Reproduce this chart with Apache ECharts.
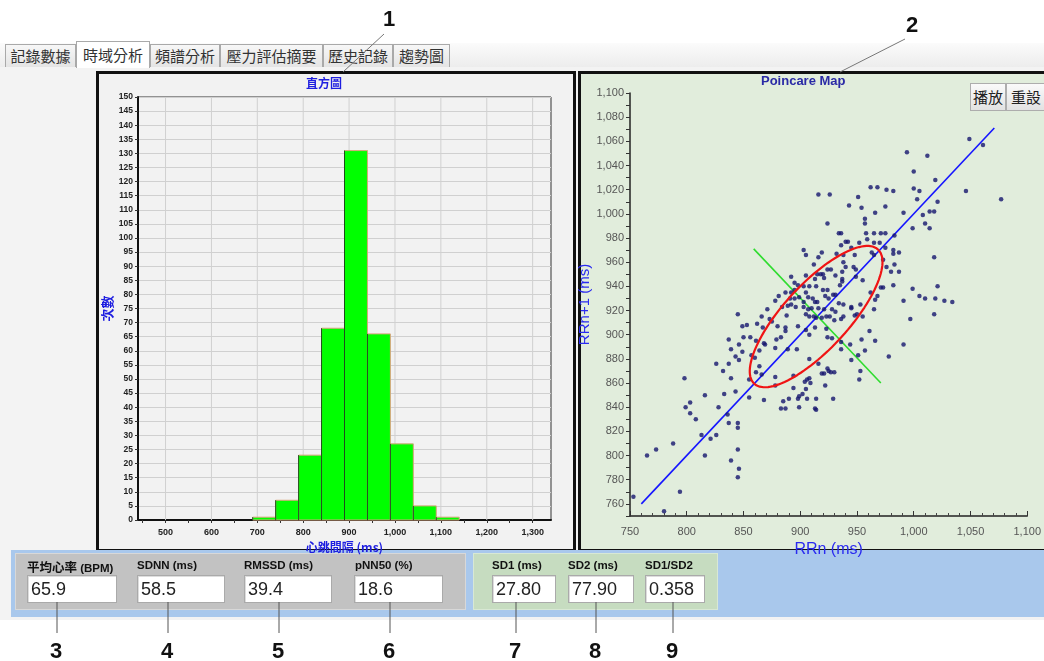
<!DOCTYPE html>
<html>
<head>
<meta charset="utf-8">
<script src="https://cdn.jsdelivr.net/npm/echarts@6/dist/echarts.min.js"></script>
<style>
html,body{margin:0;padding:0;width:1044px;height:661px;overflow:hidden;background:#fff;font-family:"Noto Sans CJK TC","Noto Sans",sans-serif;}
.abs{position:absolute;box-sizing:border-box;}
.tab{position:absolute;box-sizing:border-box;top:44px;height:23px;border:1px solid #a9a9a9;border-bottom:none;background:linear-gradient(#f7f7f7,#e4e4e4);font-size:15px;line-height:21px;color:#333;text-align:center;z-index:2;}
.tab.sel{top:41px;height:27px;background:#fff;line-height:25px;z-index:3;}
.lbl{position:absolute;font-family:"Liberation Sans Narrow","Liberation Sans",sans-serif;font-weight:bold;font-size:11.5px;color:#111;z-index:2;white-space:nowrap;}
.box{position:absolute;box-sizing:border-box;top:575px;height:28px;background:#fff;border:1px solid #aaa;box-shadow:inset 1px 1px 0 #ddd;font-family:"Liberation Sans Narrow","Liberation Sans",sans-serif;font-size:18px;line-height:26px;padding-left:3px;color:#222;z-index:2;}
.num{position:absolute;font-family:"Liberation Sans","DejaVu Sans",sans-serif;font-weight:bold;font-size:22px;color:#111;z-index:2;}
.btn{position:absolute;box-sizing:border-box;top:83px;height:28px;border:1px solid #adadad;background:linear-gradient(#fafafa,#e2e2e2);font-size:15px;line-height:26px;text-align:center;color:#222;z-index:4;}
#chart{position:absolute;left:0;top:0;width:1044px;height:661px;z-index:1;}
svg.lead{position:absolute;left:0;top:0;z-index:5;pointer-events:none;}
</style>
</head>
<body>
<div class="abs" style="left:0;top:43px;width:1044px;height:25px;background:linear-gradient(#fbfbfb,#ececec);"></div>
<div class="abs" style="left:0;top:67px;width:1044px;height:553px;background:#f3f3f3;"></div>
<div id="tabs"></div>
<div class="abs" style="left:96px;top:71px;width:480px;height:481px;border:3px solid #111;background:#f2f2f2;"></div>
<div class="abs" style="left:578px;top:71px;width:470px;height:481px;border:3px solid #111;background:#e1eddc;"></div>
<div class="abs" style="left:11px;top:550px;width:1040px;height:67px;background:#a9c8ec;"></div>
<div class="abs" style="left:15px;top:553px;width:451px;height:57px;background:#c2c2c2;border:1px solid #d8d8d8;"></div>
<div class="abs" style="left:473px;top:553px;width:245px;height:57px;background:#c6dcc0;border:1px solid #d8e8d4;"></div>
<div id="stats"></div>
<div class="btn" style="left:970px;width:36px;">播放</div>
<div class="btn" style="left:1006px;width:40px;">重設</div>
<div id="chart"></div>
<svg class="lead" width="1044" height="661" id="leads"></svg>
<div id="nums"></div>
<script>
// ---------------- data ----------------
const tabNames = ['記錄數據','時域分析','頻譜分析','壓力評估摘要','歷史記錄','趨勢圖'];
const histBinStart = [690, 740, 790, 840, 890, 940, 990, 1040, 1090];
const histBinEnd   = [740, 790, 840, 890, 940, 990, 1040, 1090, 1140];
const histCounts   = [1, 7, 23, 68, 131, 66, 27, 5, 1];
const histXLabels  = [500, 600, 700, 800, 900, 1000, 1100, 1200, 1300];
const histXTicks   = [450,500,550,600,650,700,750,800,850,900,950,1000,1050,1100,1150,1200,1250,1300];
const rrN = [
916,926,
1049,1061,994,1012,1000,1019,962,968,976,982,1000,1005,1046,1077,951,1003,1021,943,954,975,
966,991,1008,1014,1018,957,957,999,1010,1014,934,936,958,965,971,975,983,959,940,942,
952,965,970,975,945,936,982,982,987,948,963,965,1018,938,938,940,947,949,973,976,
983,980,987,937,937,937,935,949,955,971,973,982,999,1021,962,968,966,1005,1010,1019,
1027,1034,991,938,945,945,953,934,965,938,936,948,950,955,1018,997,961,954,966,936,
944,936,991,951,957,945,978,
924,903,905,916,919,912,932,915,918,920,924,927,905,913,921,931,892,895,898,903,
908,914,920,924,895,887,892,905,931,881,878,891,895,899,903,907,911,913,915,922,
925,929,892,896,903,907,910,916,921,871,884,889,928,931,866,873,875,888,905,908,
912,914,919,923,926,930,845,849,853,862,867,880,887,887,898,905,908,913,923,924,
928,850,856,837,846,861,868,869,879,883,889,897,878,839,843,846,849,857,860,864,
864,826,837,908,916,924,
930,927,925,921,919,953,952,908,906,904,894,922,894,909,905,929,902,899,898,890,
906,914,885,899,883,887,913,914,
832,839,798,816,833,843,855,868,799,803,803,828,836,808,837,845,845,813,821,826,
788,773,765,816,845,839,846,845,794,753,780,855,861,866,878,878];
const rrN1 = [
1016,1016,
1062,1057,1051,1048,1035,1028,1022,1022,1020,1019,1021,1019,1019,1012,1014,1012,1010,1007,1005,1006,
1001,1001,999,1002,1002,996,992,988,992,988,984,984,984,984,984,984,982,979,977,977,
976,976,976,972,972,974,970,967,968,966,968,966,964,966,960,956,956,954,962,956,
958,952,952,952,946,944,941,948,945,939,939,941,938,940,935,932,929,932,930,930,
928,927,928,925,923,922,925,926,921,915,913,916,917,915,917,913,903,896,895,894,
892,888,892,883,887,879,882,
992,970,966,964,968,958,967,950,950,950,954,954,949,946,947,949,948,943,941,940,
940,940,937,937,937,935,935,935,933,932,928,930,930,931,927,931,930,927,927,932,
930,933,925,923,923,921,922,922,921,921,923,924,921,919,915,913,911,916,917,915,
915,914,914,915,915,912,917,907,908,909,906,907,906,903,907,904,900,906,905,898,
897,898,898,896,892,895,893,892,896,898,888,888,889,888,882,879,886,883,881,887,
874,876,876,880,876,872,
869,869,870,868,868,870,863,864,863,861,866,858,856,860,855,847,851,849,847,847,
847,847,845,840,839,839,839,838,
870,864,864,850,851,853,848,846,840,844,835,840,834,830,827,827,823,817,814,817,
810,805,800,800,805,796,789,782,770,766,754,863,869,867,865,858];
const identityLineX = [760, 1071];
const identityLineY = [760, 1071];
const sd1AxisX = [859, 971];
const sd1AxisY = [971, 860];
const ellipseCenter = [914, 915];
const statLabels = ['平均心率 (BPM)','SDNN (ms)','RMSSD (ms)','pNN50  (%)','SD1 (ms)','SD2 (ms)','SD1/SD2'];
const statValues = ['65.9','58.5','39.4','18.6','27.80','77.90','0.358'];
const sd1 = 27.80, sd2 = 77.90;
const scatterYLabels = [760,780,800,820,840,860,880,900,920,940,960,980,1000,1020,1040,1060,1080,1100];
const scatterYTicks = [750,760,770,780,790,800,810,820,830,840,850,860,870,880,890,900,910,920,930,940,950,960,970,980,990,1000,1010,1020,1030,1040,1050,1060,1070,1080,1090,1100];

// ---------------- HTML chrome ----------------
const tabX = [5, 76, 150, 220, 323, 393];
const tabW = [71, 74, 70, 103, 70, 57];
let th = '';
tabNames.forEach((n,i)=>{ th += `<div class="tab${i===1?' sel':''}" style="left:${tabX[i]}px;width:${tabW[i]}px;">${n}</div>`; });
document.getElementById('tabs').innerHTML = th;

const lblX = [27, 137, 244, 355, 492, 568, 645];
const boxX = [27, 137, 244, 354, 492, 568, 645];
const boxW = [90, 88, 88, 89, 64, 66, 60];
let sh = '';
statLabels.forEach((l,i)=>{
  let txt = l;
  if (i===0) txt = '<span style="font-family:\'Noto Sans CJK TC\';font-size:12.5px;">平均心率</span> (BPM)';
  sh += `<div class="lbl" style="left:${lblX[i]}px;top:${i===0?557:559}px;">${txt}</div>`;
  sh += `<div class="box" style="left:${boxX[i]}px;width:${boxW[i]}px;">${statValues[i]}</div>`;
});
document.getElementById('stats').innerHTML = sh;

const calloutNums = ['1','2','3','4','5','6','7','8','9'];
const calloutX = [390, 913, 57, 168, 279, 390, 516, 596, 673];
const calloutY = [6, 12, 638, 638, 638, 638, 638, 638, 638];
let nh = '';
calloutNums.forEach((n,i)=>{ nh += `<div class="num" style="left:${calloutX[i]-7}px;top:${calloutY[i]}px;">${n}</div>`; });
document.getElementById('nums').innerHTML = nh;
let lh = '<line x1="384" y1="34" x2="343" y2="72" stroke="#777" stroke-width="1"/>';
lh += '<line x1="905" y1="39" x2="840" y2="72" stroke="#777" stroke-width="1"/>';
[57,168,279,390,516,596,673].forEach(x=>{ lh += `<line x1="${x}" y1="602" x2="${x}" y2="633" stroke="#555" stroke-width="1"/>`; });
document.getElementById('leads').innerHTML = lh;

// ---------------- chart ----------------
const chart = echarts.init(document.getElementById('chart'), null, {renderer:'canvas'});
const histData = histCounts.map((c,i)=>[histBinStart[i], histBinEnd[i], c]);
const scatterData = rrN.map((x,i)=>[x, rrN1[i]]);
const ellipse = [];
for (let k = 0; k <= 120; k++) {
  const t = 2*Math.PI*k/120;
  const u = sd2*Math.cos(t), v = sd1*Math.sin(t);
  ellipse.push([ellipseCenter[0] + (u - v)/Math.SQRT2, ellipseCenter[1] + (u + v)/Math.SQRT2]);
}
const thousands = v => Number(v).toLocaleString('en-US');

chart.setOption({
  backgroundColor: 'transparent',
  animation: false,
  graphic: [
    {type:'text', left: 306, top: 77, style:{text:'直方圖', fill:'#1e1ee0', font:'bold 12px "Noto Sans CJK TC"'}},
    {type:'text', left: 761, top: 75, style:{text:'Poincare Map', fill:'#2a2aa6', font:'bold 13px "Liberation Sans", sans-serif'}}
  ],
  grid: [
    {left: 138, top: 97, width: 413, height: 423, show: true, backgroundColor: 'transparent', borderColor: '#333', borderWidth: 1},
    {left: 630, top: 93, width: 400, height: 423}
  ],
  xAxis: [
    {gridIndex:0, type:'value', min:440, max:1340,
     axisLine:{show:true, onZero:false, lineStyle:{color:'#111', width:2}},
     axisTick:{show:true, customValues: histXTicks, length:3, lineStyle:{color:'#333'}},
     axisLabel:{customValues: histXLabels, formatter: thousands, color:'#222', fontWeight:'bold', fontSize:9, fontFamily:'"Liberation Sans", sans-serif', margin:8},
     splitLine:{show:false},
     name:'心跳間隔 (ms)', nameLocation:'middle', nameGap:16,
     nameTextStyle:{color:'#1e1ee0', fontWeight:'bold', fontSize:12, fontFamily:'"Noto Sans CJK TC"'}},
    {gridIndex:1, type:'value', min:750, max:1100, interval:50,
     axisLine:{show:true, onZero:false, lineStyle:{color:'#222', width:1.5}},
     axisTick:{show:true, inside:true, length:5, lineStyle:{color:'#333'}},
     minorTick:{show:true, splitNumber:5, length:3, lineStyle:{color:'#444'}},
     axisLabel:{formatter: thousands, color:'#555', fontSize:11, fontFamily:'"Liberation Sans", sans-serif', margin:10},
     splitLine:{show:false},
     name:'RRn (ms)', nameLocation:'middle', nameGap:19,
     nameTextStyle:{color:'#2a2af0', fontSize:16, fontFamily:'"Liberation Sans", sans-serif'}}
  ],
  yAxis: [
    {gridIndex:0, type:'value', min:0, max:150, interval:5,
     axisLine:{show:true, onZero:false, lineStyle:{color:'#111', width:2}},
     axisTick:{show:true, length:3, lineStyle:{color:'#333'}},
     axisLabel:{color:'#222', fontWeight:'bold', fontSize:8.5, fontFamily:'"Liberation Sans", sans-serif', margin:5},
     splitLine:{show:true, lineStyle:{color:'#d0d0d0', width:1}},
     name:'次數', nameLocation:'middle', nameGap:24, nameRotate:90,
     nameTextStyle:{color:'#1e1ee0', fontWeight:'bold', fontSize:13, fontFamily:'"Noto Sans CJK TC"'}},
    {gridIndex:1, type:'value', min:750, max:1100,
     axisLine:{show:true, onZero:false, lineStyle:{color:'#222', width:1.5}},
     axisTick:{show:true, customValues: scatterYTicks, length:4, lineStyle:{color:'#333'}},
     axisLabel:{customValues: scatterYLabels, formatter: thousands, color:'#555', fontSize:11, fontFamily:'"Liberation Sans", sans-serif', margin:6},
     splitLine:{show:false},
     name:'RRn+1 (ms)', nameLocation:'middle', nameGap:31, nameRotate:90,
     nameTextStyle:{color:'#2a2af0', fontSize:15, fontFamily:'"Liberation Sans", sans-serif'}}
  ],
  series: [
    {type:'custom', xAxisIndex:0, yAxisIndex:0, z:1, silent:true, data: histXLabels,
     encode:{x:0},
     renderItem: function(params, api){
       const a = api.coord([api.value(0), 0]);
       const b = api.coord([api.value(0), 150]);
       return {type:'line', shape:{x1:a[0], y1:a[1], x2:b[0], y2:b[1]}, style:{stroke:'#d0d0d0', lineWidth:1}};
     }},
    {type:'custom', xAxisIndex:0, yAxisIndex:0, z:3, data: histData,
     encode:{x:[0,1], y:2},
     renderItem: function(params, api){
       const s = api.coord([api.value(0), api.value(2)]);
       const e = api.coord([api.value(1), 0]);
       return {type:'group', children:[
         {type:'rect', shape:{x:s[0], y:s[1], width:e[0]-s[0], height:e[1]-s[1]}, style:{fill:'#00ff00', stroke:'#d9a47c', lineWidth:1}},
         {type:'line', shape:{x1:s[0], y1:s[1], x2:s[0], y2:e[1]}, style:{stroke:'#1d4d1d', lineWidth:1}}
       ]};
     }},
    {type:'line', xAxisIndex:1, yAxisIndex:1, data: identityLineX.map((x,i)=>[x, identityLineY[i]]), symbol:'none', z:2,
     lineStyle:{color:'#1515ff', width:1.6}},
    {type:'line', xAxisIndex:1, yAxisIndex:1, data: sd1AxisX.map((x,i)=>[x, sd1AxisY[i]]), symbol:'none', z:2,
     lineStyle:{color:'#2fdc2f', width:1.6}},
    {type:'line', xAxisIndex:1, yAxisIndex:1, data: ellipse, symbol:'none', smooth:false, z:4,
     lineStyle:{color:'#f01414', width:2.2}},
    {type:'scatter', xAxisIndex:1, yAxisIndex:1, data: scatterData, symbol:'circle', symbolSize:4.5, z:3,
     itemStyle:{color:'#15156e'}}
  ]
});
</script>
</body>
</html>
